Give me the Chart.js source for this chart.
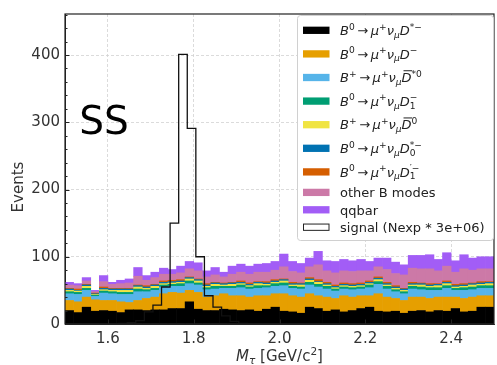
<!DOCTYPE html>
<html>
<head>
<meta charset="utf-8">
<script src="https://cdn.jsdelivr.net/npm/chart.js@4"></script>
<style>
  html, body { margin: 0; padding: 0; background: #fff; }
  canvas { display: block; }
</style>
</head>
<body>
<canvas id="histo" width="497" height="365"></canvas>
<script>
/* binning of the M_tau histogram */
const binLow = 1.5;
const binWidth = 0.02;
const sigLow = 1.505;

/* events per bin, stacked from bottom to top */
const dStarMinus = [20,17,25,19,20,19,17,21,21,20, 21,21,23,23,33,22,20,20,22,21, 20,21,19,22,25,19,18,16,25,23, 19,21,18,20,23,25,19,18,19,16, 19,20,18,20,19,23,18,19,25,25];
const dMinus     = [15,16,15,17,15,16,16,11,14,18, 19,24,24,23,17,25,20,22,23,21, 22,19,23,20,20,26,24,24,20,19, 21,17,24,20,19,17,26,22,19,19, 21,20,20,20,21,17,20,21,17,17];
const dStar0     = [10,11,10,5,11,10,11,12,13,10, 10,10,9,10,10,11,11,10,8,11, 12,12,11,12,11,12,11,12,13,13, 12,11,10,11,10,12,14,12,10,10, 12,11,12,10,13,10,12,11,11,11];
const d1         = [3,3,3,2,3,3,3,3,4,3, 3,3,3,4,4,3,3,4,3,3, 4,3,4,3,4,4,3,3,4,4, 4,3,3,3,3,4,4,4,3,3, 4,4,4,4,4,3,4,4,4,4];
const d0         = [2,2,3,1,2,2,3,3,3,2, 3,2,2,2,3,3,2,3,2,3, 2,2,3,2,2,3,2,3,3,3, 2,2,2,2,2,2,3,2,2,2, 2,3,2,3,3,2,2,3,2,3];
const d0Star     = [2,1,2,1,2,2,2,2,2,2, 2,2,2,2,2,2,2,2,2,2, 2,2,2,2,2,2,2,2,2,1, 2,2,2,2,2,2,2,2,2,2, 2,2,2,2,2,2,2,2,2,2];
const d1Prime    = [1,2,1,1,2,1,1,1,1,2, 1,2,2,2,1,1,2,1,1,1, 2,2,1,2,2,1,2,1,2,3, 2,2,2,2,2,2,2,2,2,1, 2,1,2,1,2,2,2,1,2,1];
const otherB     = [5,5,5,2,8,6,7,8,13,8, 10,10,9,10,12,12,10,11,9,12, 13,13,14,14,14,18,16,15,16,22, 17,18,18,18,18,15,15,19,18,20, 21,21,22,19,22,18,22,19,19,19];
const qqbar      = [4,3,5,2,9,3,5,6,13,7, 8,9,7,10,11,12,9,11,7,12, 12,12,12,13,13,19,15,14,13,20, 15,17,17,16,17,14,13,17,17,15, 19,20,21,17,20,17,21,18,18,18];
const signal     = [0,0,0,0,0,0,1,2,5,18, 28,55,150,401,291,100,42,25,12,4, 1,0,0,0,0,0,0,0,0,0, 0,0,0,0,0,0,0,0,0,0, 0,0,0,0,0,0,0,0,0,0];

const xTicks = [1.6, 1.8, 2.0, 2.2, 2.4];
const yTicks = [0, 100, 200, 300, 400];

/* legend labels (mathtext pieces) */
const arrow = { t: '\u2009→\u2009' };
const lep = [{ t: 'μ', i: 1 }, { t: '+', p: 'sup' }, { t: 'ν', i: 1 }, { t: 'μ', i: 1, p: 'sub' }];
const B0 = [{ t: 'B', i: 1 }, { t: '0', p: 'sup' }, arrow, ...lep];
const Bp = [{ t: 'B', i: 1 }, { t: '+', p: 'sup' }, arrow, ...lep];
const legendLabels = [
  [...B0, { t: 'D', i: 1 }, { t: '*−', p: 'sup' }],
  [...B0, { t: 'D', i: 1 }, { t: '−', p: 'sup' }],
  [...Bp, { t: 'D', i: 1, bar: 1 }, { t: '*0', p: 'sup' }],
  [...B0, { t: 'D', i: 1 }, { t: '1', p: 'sub' }, { t: '−', p: 'sup', stack: 1 }],
  [...Bp, { t: 'D', i: 1, bar: 1 }, { t: '0', p: 'sup' }],
  [...B0, { t: 'D', i: 1 }, { t: '0', p: 'sub' }, { t: '*−', p: 'sup', stack: 1 }],
  [...B0, { t: 'D', i: 1 }, { t: '1', p: 'sub' }, { t: '′−', p: 'sup', stack: 1 }],
  [{ t: 'other B modes' }],
  [{ t: 'qqbar' }],
  [{ t: 'signal (Nexp * 3e+06)' }],
];

const components = [
  { data: dStarMinus, color: '#000000' },
  { data: dMinus, color: '#E69F00' },
  { data: dStar0, color: '#56B4E9' },
  { data: d1, color: '#009E73' },
  { data: d0, color: '#F0E442' },
  { data: d0Star, color: '#0072B2' },
  { data: d1Prime, color: '#D55E00' },
  { data: otherB, color: '#CC79A7' },
  { data: qqbar, color: '#A25DF6' },
];

const FONT = '"DejaVu Sans"';

const datasets = components.map((c, k) => ({
  type: 'bar',
  label: 'c' + k,
  data: c.data.map((v, i) => ({ x: binLow + binWidth * (i + 0.5), y: v })),
  backgroundColor: c.color,
  borderWidth: 0,
  barPercentage: 1,
  categoryPercentage: 1,
}));
datasets.push({
  type: 'line',
  label: 'signal',
  data: [...signal, signal[signal.length - 1]].map((v, i) => ({ x: sigLow + binWidth * i, y: v })),
  stepped: true,
  borderColor: '#111',
  backgroundColor: 'rgba(0,0,0,0)',
  borderWidth: 1.3,
  pointRadius: 0,
  fill: false,
  stack: 'sig',
  order: -1,
});

function drawRich(ctx, segs, x, y, size, measureOnly) {
  let cx = x, segStart = x;
  ctx.textAlign = 'left';
  ctx.textBaseline = 'alphabetic';
  for (const s of segs) {
    const small = s.p === 'sup' || s.p === 'sub';
    const fs = small ? size * 0.7 : size;
    ctx.font = (s.i ? 'italic ' : '') + fs + 'px ' + FONT;
    const dy = s.p === 'sup' ? -size * 0.42 : s.p === 'sub' ? size * 0.22 : 0;
    const sx = s.stack ? segStart : cx;
    const w = ctx.measureText(s.t).width;
    if (!measureOnly) {
      ctx.fillText(s.t, sx, y + dy);
      if (s.bar) ctx.fillRect(sx + size * 0.15, y - size * 0.92, w - size * 0.1, Math.max(1, size * 0.07));
    }
    if (s.stack) cx = Math.max(cx, sx + w);
    else { segStart = sx; cx = sx + w; }
  }
  return cx - x;
}

const deco = {
  id: 'deco',
  afterDatasetsDraw(chart) {
    const { ctx, chartArea: a, scales: { x, y } } = chart;
    ctx.save();
    // frame
    ctx.strokeStyle = '#222';
    ctx.lineWidth = 1.2;
    ctx.strokeRect(a.left, a.top, a.right - a.left, a.bottom - a.top);
    // inward ticks
    ctx.lineWidth = 1;
    ctx.beginPath();
    for (let v = 0; v <= y.max; v += 20) {
      const py = Math.round(y.getPixelForValue(v)) + 0.5;
      const len = v % 100 === 0 ? 4.5 : 2.5;
      ctx.moveTo(a.left, py); ctx.lineTo(a.left + len, py);
    }
    for (const v of xTicks) {
      const px = Math.round(x.getPixelForValue(v)) + 0.5;
      ctx.moveTo(px, a.bottom); ctx.lineTo(px, a.bottom - 4.5);
    }
    ctx.stroke();

    // "SS" label
    ctx.fillStyle = '#000';
    ctx.font = '39px ' + FONT;
    ctx.textAlign = 'center';
    ctx.textBaseline = 'middle';
    ctx.fillText('SS', 104, 124);

    // legend box
    const lx = 297.5, ly = 15.5, lw = 196, lh = 225, r = 3;
    ctx.beginPath();
    ctx.moveTo(lx + r, ly);
    ctx.lineTo(lx + lw - r, ly);
    ctx.arcTo(lx + lw, ly, lx + lw, ly + r, r);
    ctx.lineTo(lx + lw, ly + lh - r);
    ctx.arcTo(lx + lw, ly + lh, lx + lw - r, ly + lh, r);
    ctx.lineTo(lx + r, ly + lh);
    ctx.arcTo(lx, ly + lh, lx, ly + lh - r, r);
    ctx.lineTo(lx, ly + r);
    ctx.arcTo(lx, ly, lx + r, ly, r);
    ctx.closePath();
    ctx.fillStyle = '#ffffff';
    ctx.fill();
    ctx.strokeStyle = '#d0d0d0';
    ctx.lineWidth = 1;
    ctx.stroke();

    let cy = 30.3, prevH = null;
    legendLabels.forEach((segs, k) => {
      const h = segs.some(s => s.p) ? 23.6 : 17.4;
      if (prevH !== null) cy += (prevH + h) / 2;
      prevH = h;
      const py = cy - 3.65;
      if (k < components.length) {
        ctx.fillStyle = components[k].color;
        ctx.fillRect(303, py, 26.5, 7.3);
      } else {
        ctx.strokeStyle = '#222';
        ctx.lineWidth = 1;
        ctx.strokeRect(303.5, py + 0.5, 25.5, 6.3);
      }
      ctx.fillStyle = '#222';
      drawRich(ctx, segs, 340, cy + 4.7, 13);
    });

    // axis titles
    ctx.fillStyle = '#333';
    const xTitle = [{ t: 'M', i: 1 }, { t: 'τ', i: 1, p: 'sub' }, { t: ' [GeV/c' }, { t: '2', p: 'sup' }, { t: ']' }];
    const tw = drawRich(ctx, xTitle, 0, 0, 15, true);
    drawRich(ctx, xTitle, (a.left + a.right) / 2 - tw / 2, 361, 15);
    ctx.save();
    ctx.translate(23, 187);
    ctx.rotate(-Math.PI / 2);
    ctx.font = '15px ' + FONT;
    ctx.textAlign = 'center';
    ctx.textBaseline = 'alphabetic';
    ctx.fillText('Events', 0, 0);
    ctx.restore();
    ctx.restore();
  }
};

new Chart(document.getElementById('histo'), {
  data: { datasets },
  options: {
    responsive: false,
    devicePixelRatio: 1,
    animation: false,
    events: [],
    layout: { padding: { left: 0, top: 9, right: 3, bottom: 0 } },
    plugins: {
      legend: { display: false },
      tooltip: { enabled: false },
      colors: { enabled: false },
      filler: { propagate: false },
    },
    scales: {
      x: {
        type: 'linear',
        min: 1.5,
        max: 2.5,
        stacked: true,
        offset: false,
        afterBuildTicks: s => { s.ticks = xTicks.map(v => ({ value: v })); },
        afterFit: s => { s.height = 41; },
        grid: { color: '#d2d2d2', lineWidth: 0.8, drawTicks: false, offset: false },
        border: { color: '#222', dash: [3, 2] },
        ticks: { font: { family: 'DejaVu Sans', size: 15 }, color: '#333', padding: 6, maxRotation: 0, callback: v => v.toFixed(1) },
      },
      y: {
        stacked: true,
        min: 0,
        max: 461,
        afterBuildTicks: s => { s.ticks = yTicks.map(v => ({ value: v })); },
        afterFit: s => { s.width = 65; },
        grid: { color: '#d2d2d2', lineWidth: 0.8, drawTicks: false },
        border: { color: '#222', dash: [3, 2] },
        ticks: { font: { family: 'DejaVu Sans', size: 15 }, color: '#333', padding: 5, callback: v => String(v) },
      },
    },
  },
  plugins: [deco],
});
</script>
</body>
</html>
